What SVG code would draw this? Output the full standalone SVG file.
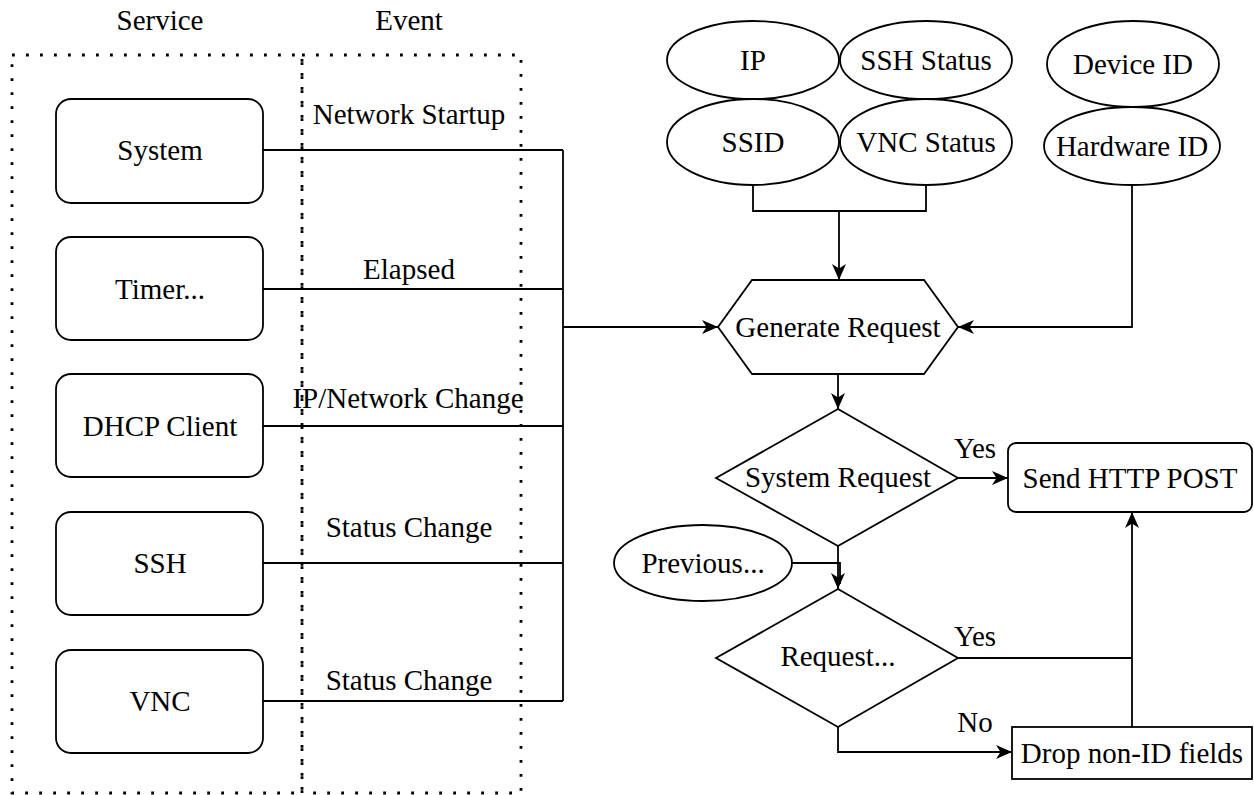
<svg xmlns="http://www.w3.org/2000/svg" width="1254" height="795" viewBox="0 0 1254 795">
<defs>
<marker id="arr" markerUnits="userSpaceOnUse" markerWidth="19" markerHeight="17" refX="16" refY="8.5" orient="auto">
<path d="M0,1.5 L16,8.5 L0,15.5 L4.5,8.5 Z" fill="#000"/>
</marker>
</defs>
<rect width="1254" height="795" fill="#fff"/>
<g font-family="Liberation Serif, serif" font-size="29" text-anchor="middle" dominant-baseline="central" fill="#000">
<g id="lanes">
<g fill="none" stroke="#000" stroke-width="2.8" stroke-dasharray="2.8 11.2">
<rect x="12" y="55" width="290" height="738"/>
<rect x="302" y="55" width="219" height="738"/>
</g>
<text x="160" y="20">Service</text>
<text x="409" y="20">Event</text>
</g>
<g id="connectors">
<g fill="none" stroke="#000" stroke-width="1.8">
<path d="M263,150 H563 M263,289 H563 M263,426 H563 M263,563 H563 M263,701 H563 M563,150 V701"/>
<path d="M563,327 H718" marker-end="url(#arr)"/>
<path d="M753,185 V211 H926 V185"/>
<path d="M839,211 V280" marker-end="url(#arr)"/>
<path d="M1132,185 V327 H958" marker-end="url(#arr)"/>
<path d="M838,374 V409" marker-end="url(#arr)"/>
<path d="M958,478 H1008" marker-end="url(#arr)"/>
<path d="M838,546 V589" marker-end="url(#arr)"/>
<path d="M792,563 H840 V584"/>
<path d="M958,658 H1132"/>
<path d="M1132,727 V512" marker-end="url(#arr)"/>
<path d="M838,727 V752 H1012" marker-end="url(#arr)"/>
</g>
<text x="409" y="114">Network Startup</text>
<text x="409" y="269">Elapsed</text>
<text x="408" y="398">IP/Network Change</text>
<text x="409" y="527">Status Change</text>
<text x="409" y="680">Status Change</text>
<text x="975" y="448">Yes</text>
<text x="975" y="636">Yes</text>
<text x="975" y="722">No</text>
</g>
<g stroke="#000" stroke-width="1.8">
<g id="system"><rect fill="#fff" x="56" y="99" width="207" height="104" rx="15"/><text stroke="none" x="160" y="150">System</text></g>
<g id="timer"><rect fill="#fff" x="56" y="237" width="207" height="103" rx="15"/><text stroke="none" x="160" y="289">Timer...</text></g>
<g id="dhcp"><rect fill="#fff" x="56" y="374" width="207" height="103" rx="15"/><text stroke="none" x="160" y="426">DHCP Client</text></g>
<g id="ssh"><rect fill="#fff" x="56" y="512" width="207" height="103" rx="15"/><text stroke="none" x="160" y="563">SSH</text></g>
<g id="vnc"><rect fill="#fff" x="56" y="650" width="207" height="103" rx="15"/><text stroke="none" x="160" y="701">VNC</text></g>
<g id="ip"><ellipse fill="#fff" cx="753" cy="60" rx="86" ry="39"/><text stroke="none" x="753" y="60">IP</text></g>
<g id="sshstatus"><ellipse fill="#fff" cx="926" cy="60" rx="86" ry="39"/><text stroke="none" x="926" y="60">SSH Status</text></g>
<g id="ssid"><ellipse fill="#fff" cx="753" cy="142" rx="86" ry="43"/><text stroke="none" x="753" y="142">SSID</text></g>
<g id="vncstatus"><ellipse fill="#fff" cx="926" cy="142" rx="86" ry="43"/><text stroke="none" x="926" y="142">VNC Status</text></g>
<g id="deviceid"><ellipse fill="#fff" cx="1133" cy="64" rx="86" ry="43"/><text stroke="none" x="1133" y="64">Device ID</text></g>
<g id="hardwareid"><ellipse fill="#fff" cx="1132" cy="146" rx="88" ry="39"/><text stroke="none" x="1132" y="146">Hardware ID</text></g>
<g id="generate"><polygon fill="#fff" points="718,327 752,280 924,280 958,327 924,374 752,374"/><text stroke="none" x="838" y="327">Generate Request</text></g>
<g id="sysreq"><polygon fill="#fff" points="838,409 958,478 838,546 716,478"/><text stroke="none" x="838" y="477">System Request</text></g>
<g id="previous"><ellipse fill="#fff" cx="703" cy="563" rx="89" ry="38"/><text stroke="none" x="703" y="563">Previous...</text></g>
<g id="request"><polygon fill="#fff" points="838,589 958,658 838,727 716,658"/><text stroke="none" x="838" y="656">Request...</text></g>
<g id="send"><rect fill="#fff" x="1008" y="443" width="244" height="69" rx="8"/><text stroke="none" x="1130" y="478">Send HTTP POST</text></g>
<g id="drop"><rect fill="#fff" x="1012" y="727" width="240" height="52"/><text stroke="none" x="1132" y="753">Drop non-ID fields</text></g>
</g>
</g>
</svg>
